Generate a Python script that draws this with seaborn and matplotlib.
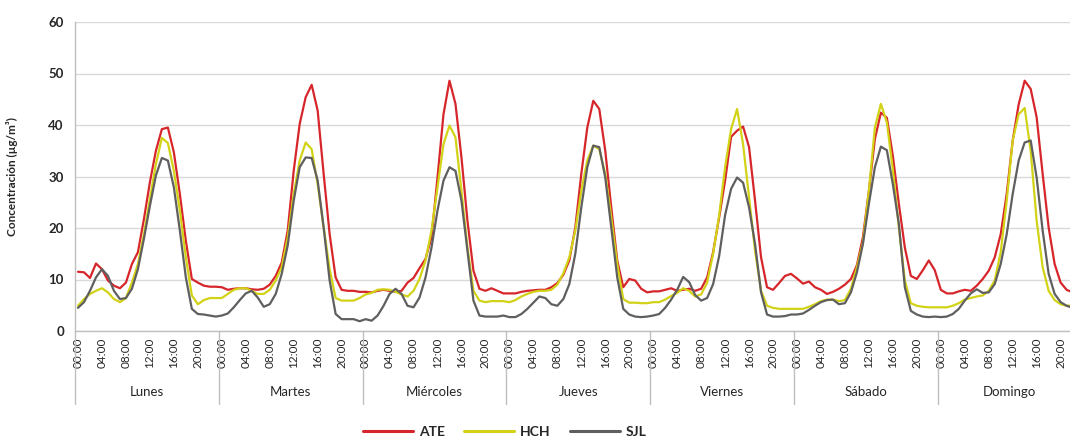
import numpy as np
import pandas as pd
import matplotlib
matplotlib.use("Agg")
import matplotlib.pyplot as plt
import matplotlib.transforms as mtransforms
from matplotlib.lines import Line2D
import seaborn as sns

# categories
days = ["Lunes", "Martes", "Miércoles", "Jueves", "Viernes", "Sábado", "Domingo"]
hours = [f"{h:02d}:00" for h in range(24)]

# hourly means per station, one row of 24 per day
ate = [
    11.5, 11.4, 10.3, 13.1, 12.0, 9.8, 8.8, 8.3, 9.4, 13.0, 15.3, 21.7, 28.9, 35.0, 39.2, 39.5, 34.7, 26.6, 17.5, 10.1, 9.4, 8.8, 8.6, 8.6,
    8.5, 8.0, 8.2, 8.3, 8.3, 8.1, 8.0, 8.2, 9.0, 10.7, 13.3, 19.5, 31.1, 40.2, 45.4, 47.8, 42.8, 30.5, 18.8, 10.4, 8.0, 7.8, 7.8, 7.6,
    7.6, 7.5, 7.8, 8.0, 7.8, 7.6, 7.8, 9.4, 10.3, 12.2, 14.0, 18.2, 29.8, 42.1, 48.6, 44.1, 33.7, 21.4, 11.7, 8.2, 7.8, 8.3, 7.8, 7.3,
    7.3, 7.3, 7.6, 7.8, 7.9, 8.0, 8.0, 8.5, 9.3, 10.9, 13.7, 20.1, 30.5, 39.5, 44.7, 43.1, 35.0, 24.0, 13.7, 8.5, 10.1, 9.8, 8.2, 7.5,
    7.7, 7.7, 8.0, 8.3, 7.8, 8.0, 8.2, 7.8, 8.2, 10.4, 15.3, 22.0, 29.2, 37.7, 38.9, 39.7, 35.7, 25.3, 14.3, 8.5, 8.0, 9.3, 10.7, 11.1,
    10.2, 9.2, 9.6, 8.5, 8.0, 7.2, 7.6, 8.2, 9.0, 10.1, 12.8, 18.2, 27.2, 37.3, 42.4, 41.4, 34.0, 24.7, 16.2, 10.7, 10.1, 11.8, 13.7, 11.8,
    8.0, 7.3, 7.3, 7.7, 8.0, 7.8, 8.8, 10.1, 11.7, 14.3, 18.8, 26.6, 37.0, 44.0, 48.6, 47.0, 41.5, 30.5, 20.1, 13.0, 9.4, 8.0, 7.5, 7.2,
]
hch = [
    4.9, 6.2, 7.2, 7.8, 8.3, 7.5, 6.2, 5.6, 6.4, 9.4, 13.0, 18.8, 25.6, 32.4, 37.5, 36.5, 31.1, 23.4, 14.3, 6.9, 5.2, 6.0, 6.4, 6.4,
    6.4, 7.2, 8.0, 8.3, 8.3, 7.8, 7.2, 7.2, 8.0, 9.8, 12.4, 18.2, 26.6, 33.1, 36.6, 35.3, 28.5, 20.1, 12.0, 6.4, 5.9, 5.9, 5.9, 6.4,
    7.1, 7.4, 8.0, 8.1, 8.0, 7.6, 7.1, 6.7, 7.8, 10.1, 13.7, 19.5, 27.9, 36.3, 39.9, 37.6, 27.2, 16.2, 7.8, 5.9, 5.6, 5.8, 5.8, 5.8,
    5.6, 6.0, 6.7, 7.2, 7.6, 7.8, 7.8, 8.0, 9.0, 11.2, 14.3, 19.5, 27.2, 33.1, 36.0, 35.3, 30.5, 22.1, 13.0, 6.2, 5.5, 5.5, 5.4, 5.4,
    5.6, 5.6, 6.1, 6.8, 7.4, 8.3, 7.8, 6.7, 7.1, 9.4, 15.0, 22.4, 31.8, 39.2, 43.1, 36.3, 26.0, 15.6, 7.8, 4.9, 4.5, 4.3, 4.3, 4.3,
    4.3, 4.3, 4.7, 5.2, 5.8, 6.1, 6.1, 5.8, 6.0, 8.2, 12.4, 17.2, 27.2, 39.5, 44.1, 40.5, 31.3, 20.1, 9.8, 5.4, 4.9, 4.7, 4.6, 4.6,
    4.6, 4.6, 4.9, 5.4, 6.1, 6.4, 6.7, 6.9, 7.8, 9.8, 15.3, 25.3, 37.0, 42.1, 43.3, 35.0, 21.4, 12.4, 7.8, 6.0, 5.2, 4.9, 5.0, 5.2,
]
sjl = [
    4.5, 5.6, 7.8, 10.4, 12.0, 10.7, 7.8, 6.2, 6.4, 8.2, 12.0, 17.9, 24.3, 30.2, 33.6, 33.1, 27.9, 19.5, 10.4, 4.3, 3.3, 3.2, 3.0, 2.8,
    3.0, 3.4, 4.6, 6.0, 7.3, 7.8, 6.5, 4.7, 5.2, 7.2, 11.1, 16.6, 25.3, 31.8, 33.7, 33.6, 29.2, 20.1, 9.8, 3.3, 2.3, 2.3, 2.3, 1.9,
    2.3, 2.0, 3.0, 4.9, 7.2, 8.2, 7.2, 4.9, 4.6, 6.5, 10.4, 16.2, 23.4, 29.2, 31.8, 31.1, 25.3, 15.6, 5.9, 3.0, 2.8, 2.8, 2.8, 3.0,
    2.7, 2.7, 3.3, 4.3, 5.5, 6.7, 6.4, 5.2, 4.9, 6.2, 9.1, 15.0, 24.0, 31.8, 36.0, 35.7, 29.8, 20.1, 10.4, 4.3, 3.2, 2.8, 2.7, 2.8,
    3.0, 3.3, 4.5, 6.1, 8.0, 10.5, 9.5, 7.0, 5.9, 6.4, 9.1, 14.5, 22.5, 27.6, 29.8, 28.8, 24.0, 16.9, 7.5, 3.2, 2.8, 2.8, 2.9, 3.2,
    3.2, 3.4, 4.1, 4.9, 5.6, 6.0, 6.1, 5.2, 5.4, 7.5, 11.4, 16.9, 24.7, 31.8, 35.8, 35.1, 28.5, 20.8, 8.5, 3.9, 3.2, 2.8, 2.7, 2.8,
    2.7, 2.8, 3.3, 4.3, 5.9, 7.3, 8.1, 7.4, 7.5, 9.1, 13.0, 18.8, 26.6, 33.1, 36.6, 37.0, 29.8, 19.5, 11.1, 7.2, 5.6, 4.9, 4.5, 4.3,
]

stations = ["ATE", "HCH", "SJL"]
colors = {"ATE": "#d7262b", "HCH": "#d2d216", "SJL": "#5f5f5f"}

n = len(days) * len(hours)
df = pd.DataFrame({
    "idx": np.tile(np.arange(n), len(stations)),
    "valor": ate + hch + sjl,
    "estacion": np.repeat(stations, n),
})

sns.set_style("white")
plt.rcParams["font.family"] = ["Lato", "DejaVu Sans"]

fig = plt.figure(figsize=(10.7, 4.37), dpi=100)
# plot area runs a little past the right edge, like the cropped original
ax = fig.add_axes([75 / 1070, 106 / 437, 1006.6 / 1070, 309 / 437])

sns.lineplot(data=df, x="idx", y="valor", hue="estacion", palette=colors,
             linewidth=1.6, ax=ax, legend=False)
for ln in ax.get_lines():
    ln.set_solid_joinstyle("round")
    ln.set_solid_capstyle("round")

ax.set_xlim(-0.5, n - 0.5)
ax.set_ylim(0, 60)
ax.set_yticks(range(0, 61, 10))
ax.yaxis.grid(True, color="#d9d9d9", linewidth=1)
ax.set_axisbelow(True)
for s in ["top", "right"]:
    ax.spines[s].set_visible(False)
for s in ["left", "bottom"]:
    ax.spines[s].set_color("#bfbfbf")
    ax.spines[s].set_linewidth(1)

ax.tick_params(axis="y", length=4, color="#bfbfbf", labelsize=9.5, labelcolor="#262626", pad=4)
for t in ax.get_yticklabels():
    t.set_fontweight("bold")

xt = list(range(0, n, 4))
ax.set_xticks(xt)
ax.set_xticklabels([hours[i % 24] for i in xt], rotation=90, fontsize=8.5, color="#262626")
ax.tick_params(axis="x", length=0, pad=5)
ax.set_xlabel("")

ax.set_ylabel("Concentración (µg/m³)", fontsize=8.5, fontweight="bold", color="#262626")
ax.yaxis.set_label_coords(-57 / 1006.6, 0.5)

# day groups under the hour labels
trans = mtransforms.blended_transform_factory(ax.transData, ax.transAxes)
for k in range(len(days) + 1):
    ax.plot([24 * k - 0.5] * 2, [0, -0.236], transform=trans, color="#bfbfbf",
            linewidth=1, clip_on=False)
for k, d in enumerate(days):
    ax.text(24 * k + 11.5, -0.197, d, transform=trans, ha="center", va="center",
            fontsize=9.5, color="#262626")

handles = [Line2D([], [], color=colors[s], linewidth=2.2) for s in stations]
leg = fig.legend(handles, stations, loc="center", bbox_to_anchor=(505 / 1070, 5 / 437),
                 ncol=3, frameon=False, handlelength=3.6, handletextpad=0.4,
                 columnspacing=1.4, fontsize=10)
for t in leg.get_texts():
    t.set_fontweight("bold")
    t.set_color("#262626")

fig.savefig("out.png", dpi=100)
